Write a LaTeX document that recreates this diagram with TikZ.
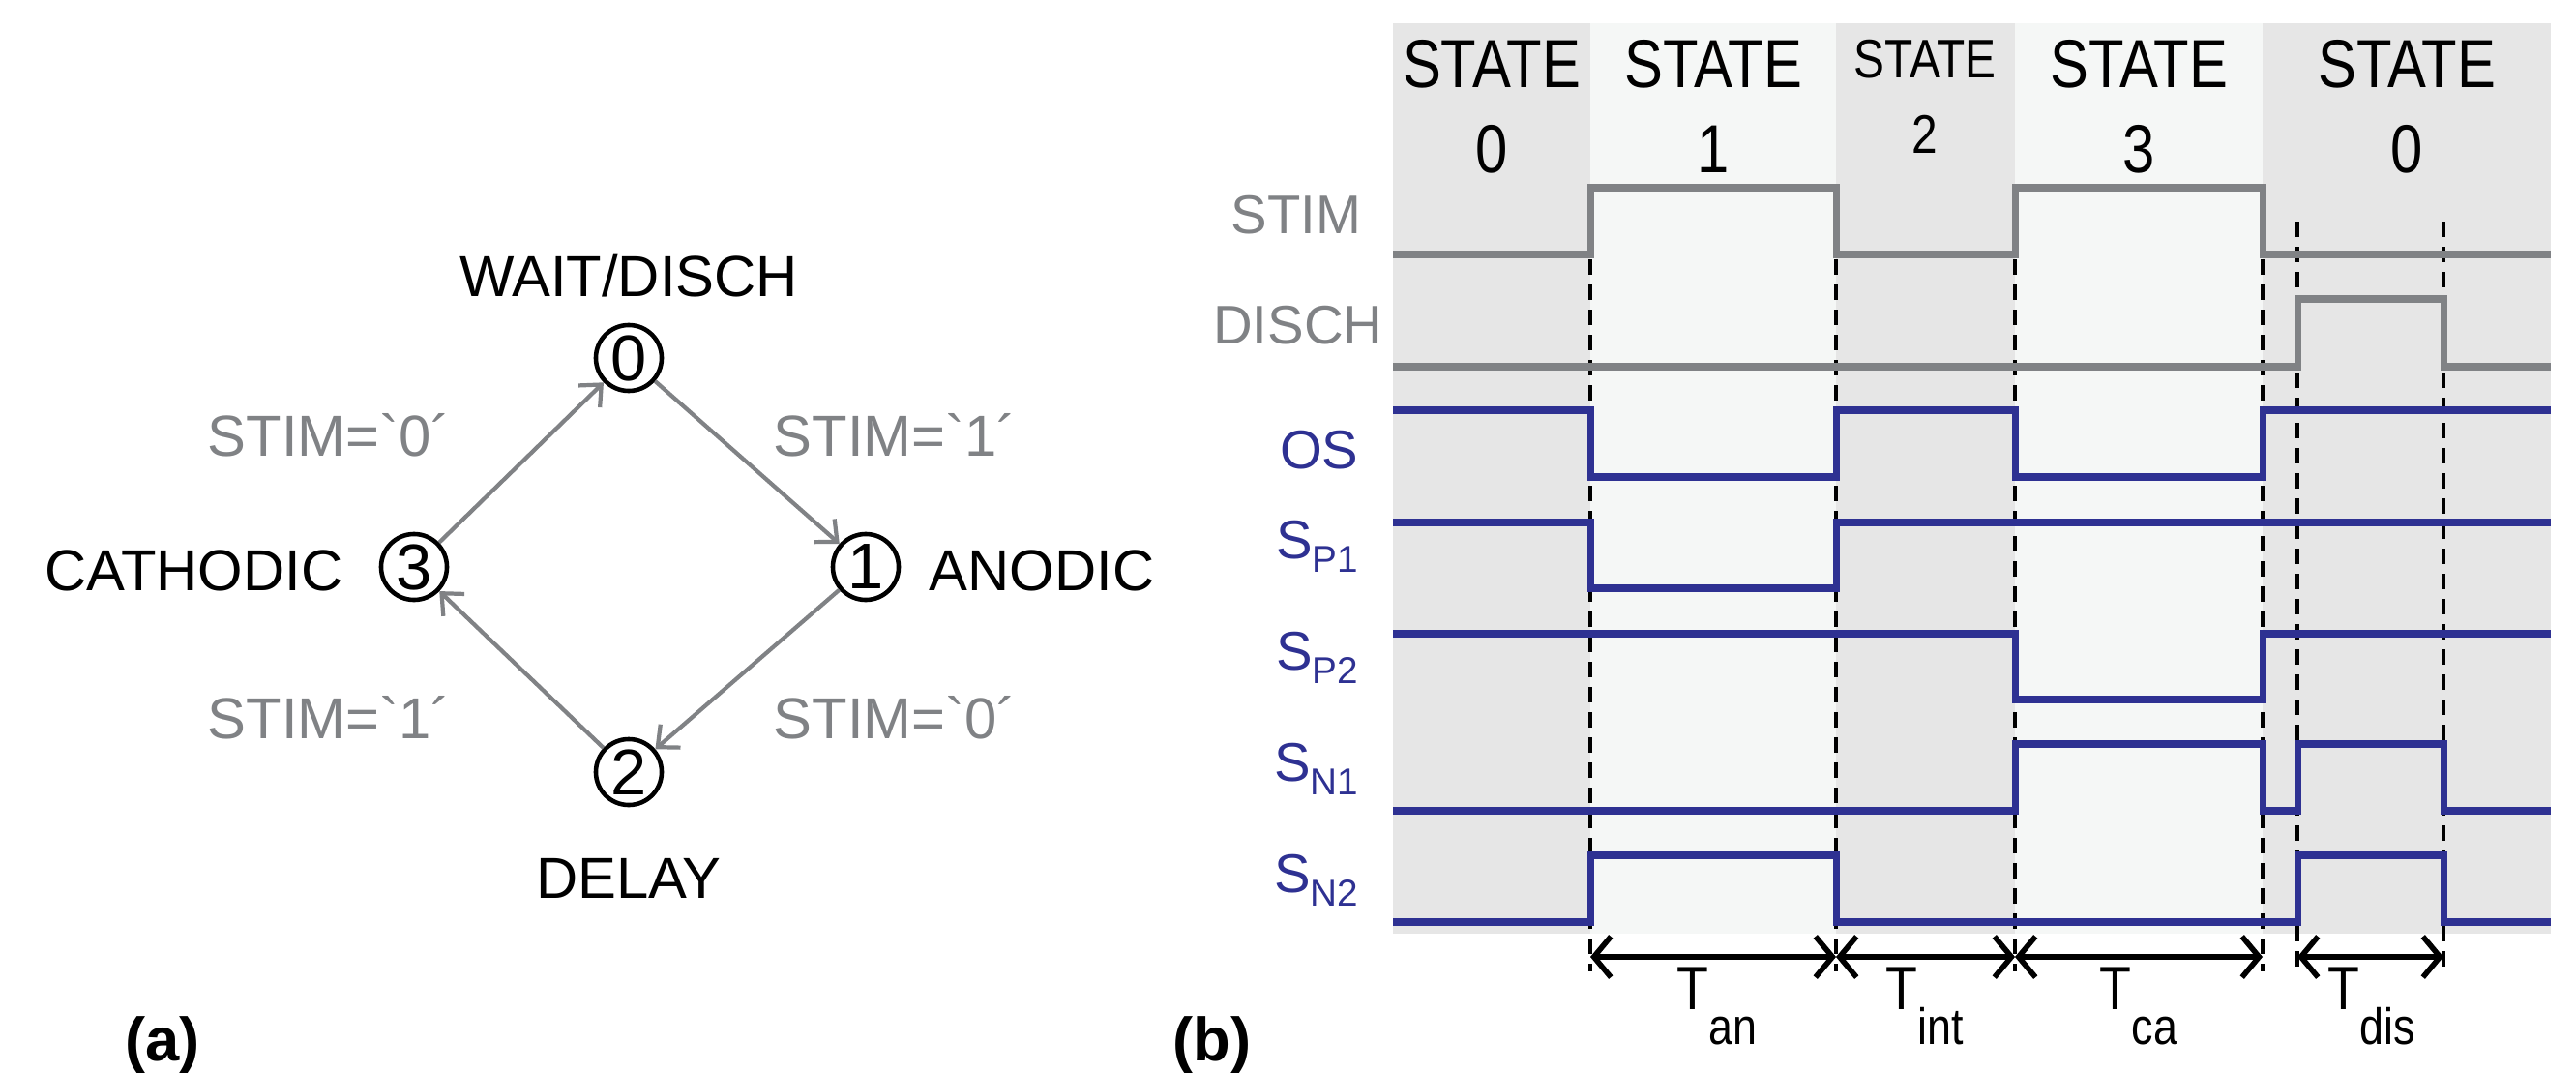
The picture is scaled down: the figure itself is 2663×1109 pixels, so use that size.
\documentclass[tikz,border=0pt]{standalone}
\usepackage{fontspec}
\setmainfont{Liberation Sans}[Ligatures=TeXReset]
\usetikzlibrary{arrows.meta}
\definecolor{sgray}{HTML}{808285}
\definecolor{sblue}{HTML}{2E3192}
\definecolor{bgd}{HTML}{E6E6E6}
\definecolor{bgl}{HTML}{F5F7F6}
\begin{document}
\begin{tikzpicture}[x=0.01cm,y=-0.01cm,
  st/.style={circle,draw=black,line width=1.3pt,minimum size=0.68cm,inner sep=0pt,font=\fontsize{19}{19}\selectfont},
  lab/.style={font=\fontsize{17}{17}\selectfont},
  glab/.style={font=\fontsize{17}{17}\selectfont,text=sgray},
  tr/.style={draw=sgray,line width=1.2pt,-{Straight Barb[length=5pt,width=9pt]}},
  stt/.style={font=\fontsize{20}{25}\selectfont,align=center,xscale=0.85,inner sep=0pt},
  sig/.style={line width=2pt},
  slab/.style={font=\fontsize{16}{16}\selectfont,anchor=east,inner sep=0pt},
  dl/.style={black,line width=1pt,dash pattern=on 0.16cm off 0.1cm},
  dim/.style={black,line width=1.6pt,{Straight Barb[length=5pt,width=12pt]}-{Straight Barb[length=5pt,width=12pt]}}]
\useasboundingbox (0,0) rectangle (2663,1109);
% ---- panel (a)
\node[st] (s0) at (650,370) {0};
\node[st] (s1) at (895,586) {1};
\node[st] (s2) at (650,798) {2};
\node[st] (s3) at (428,586) {3};
\node[lab] (l0) at (650,285) {WAIT/DISCH};
\node[lab,anchor=west,inner sep=0pt] (l1) at (960,590) {ANODIC};
\node[lab,anchor=east,inner sep=0pt] (l3) at (355,590) {CATHODIC};
\node[lab] (l2) at (650,908) {DELAY};
\draw[tr] (s0) -- (s1);
\draw[tr] (s1) -- (s2);
\draw[tr] (s2) -- (s3);
\draw[tr] (s3) -- (s0);
\node[glab] (t30) at (340,450) {STIM=`0´};
\node[glab] (t01) at (925,450) {STIM=`1´};
\node[glab] (t23) at (340,742) {STIM=`1´};
\node[glab] (t12) at (925,742) {STIM=`0´};
\node[font=\bfseries\fontsize{18}{18}\selectfont] (pa) at (168,1080) {(a)};
\node[font=\bfseries\fontsize{18}{18}\selectfont] (pb) at (1253,1080) {(b)};
% ---- panel (b) backgrounds
\fill[bgd] (1440,24) rectangle (1644,965);
\fill[bgl] (1644,24) rectangle (1898,965);
\fill[bgd] (1898,24) rectangle (2083,965);
\fill[bgl] (2083,24) rectangle (2339,965);
\fill[bgd] (2339,24) rectangle (2637,965);
\node[stt] (h0) at (1542,110) {STATE\\0};
\node[stt] (h1) at (1771,110) {STATE\\1};
\node[stt,font=\fontsize{16}{22}\selectfont] (h2) at (1990,100) {STATE\\2};
\node[stt] (h3) at (2211,110) {STATE\\3};
\node[stt] (h4) at (2488,110) {STATE\\0};
% dashed lines
\foreach \x in {1644,1898,2083,2339} \draw[dl] (\x,268) -- (\x,1004);
\foreach \x in {2375,2526} \draw[dl] (\x,229) -- (\x,1004);
% signals
\draw[sig,sgray] (1440,263) -- (1644,263) -- (1644,194) -- (1898,194) -- (1898,263) -- (2083,263) -- (2083,194) -- (2339,194) -- (2339,263) -- (2637,263);
\draw[sig,sgray] (1440,379) -- (2375,379) -- (2375,309) -- (2526,309) -- (2526,379) -- (2637,379);
\draw[sig,sblue] (1440,424) -- (1644,424) -- (1644,493) -- (1898,493) -- (1898,424) -- (2083,424) -- (2083,493) -- (2339,493) -- (2339,424) -- (2637,424);
\draw[sig,sblue] (1440,540) -- (1644,540) -- (1644,608) -- (1898,608) -- (1898,540) -- (2637,540);
\draw[sig,sblue] (1440,655) -- (2083,655) -- (2083,723) -- (2339,723) -- (2339,655) -- (2637,655);
\draw[sig,sblue] (1440,838) -- (2083,838) -- (2083,769) -- (2339,769) -- (2339,838) -- (2375,838) -- (2375,769) -- (2526,769) -- (2526,838) -- (2637,838);
\draw[sig,sblue] (1440,953) -- (1644,953) -- (1644,884) -- (1898,884) -- (1898,953) -- (2375,953) -- (2375,884) -- (2526,884) -- (2526,953) -- (2637,953);
% signal labels
\node[slab,text=sgray] (lstim) at (1408,222) {STIM};
\node[slab,text=sgray] (ldis) at (1430,336) {DISCH};
\node[slab,text=sblue] (los) at (1405,465) {OS};
\node[slab,text=sblue] (lsp1) at (1405,565) {S\raisebox{-0.45ex}{\fontsize{11}{11}\selectfont P1}};
\node[slab,text=sblue] (lsp2) at (1405,680) {S\raisebox{-0.45ex}{\fontsize{11}{11}\selectfont P2}};
\node[slab,text=sblue] (lsn1) at (1405,795) {S\raisebox{-0.45ex}{\fontsize{11}{11}\selectfont N1}};
\node[slab,text=sblue] (lsn2) at (1405,910) {S\raisebox{-0.45ex}{\fontsize{11}{11}\selectfont N2}};
% dimensions
\coordinate (d1) at (1644,989); \coordinate (d2) at (1898,989);
\coordinate (d3) at (2083,989); \coordinate (d4) at (2339,989);
\coordinate (d5) at (2375,989); \coordinate (d6) at (2526,989);
\draw[dim] (d1) -- (d2);
\draw[dim] (d2) -- (d3);
\draw[dim] (d3) -- (d4);
\draw[dim] (d5) -- (d6);
\tikzset{tl/.style={font=\fontsize{18}{18}\selectfont,xscale=0.85,inner sep=0pt}}
\node[tl] (tan) at (1775,1040) {T\raisebox{-1.1ex}{\fontsize{15}{15}\selectfont an}};
\node[tl] (tint) at (1990,1040) {T\raisebox{-1.1ex}{\fontsize{15}{15}\selectfont int}};
\node[tl] (tca) at (2211,1040) {T\raisebox{-1.1ex}{\fontsize{15}{15}\selectfont ca}};
\node[tl] (tdis) at (2452,1040) {T\raisebox{-1.1ex}{\fontsize{15}{15}\selectfont dis}};
\end{tikzpicture}
\end{document}
